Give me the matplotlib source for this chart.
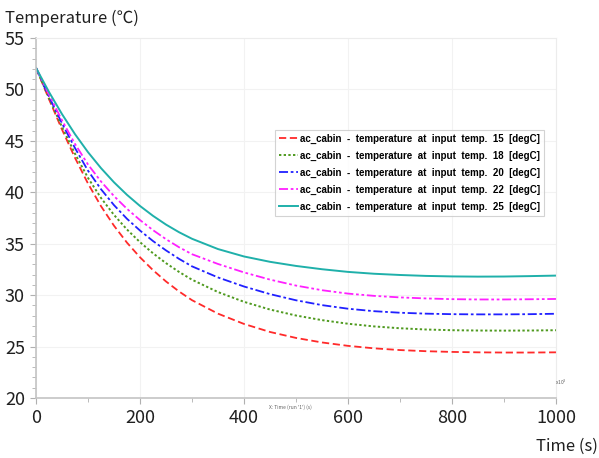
import matplotlib
matplotlib.use('Agg')
from matplotlib import ticker
import matplotlib.pyplot as plt

plt.rcParams['font.family'] = ['Noto Sans CJK KR', 'DejaVu Sans']

time_s = [0, 25, 50, 75, 100, 125, 150, 175, 200, 225, 250, 275, 300,
          350, 400, 450, 500, 550, 600, 650, 700, 750, 800, 850, 900, 950, 1000]

temp_15 = [52.1, 49.05, 46.1, 43.35, 40.85, 38.65, 36.75, 35.1, 33.68, 32.43, 31.33, 30.36, 29.51,
           28.2, 27.2, 26.42, 25.84, 25.4, 25.07, 24.83, 24.66, 24.55, 24.48, 24.44, 24.42, 24.42, 24.44]
temp_18 = [52.1, 49.15, 46.35, 43.75, 41.4, 39.45, 37.8, 36.38, 35.15, 34.07, 33.11, 32.26, 31.5,
           30.3, 29.35, 28.6, 28.02, 27.57, 27.22, 26.96, 26.78, 26.66, 26.59, 26.56, 26.55, 26.56, 26.59]
temp_20 = [52.1, 49.3, 46.7, 44.3, 42.1, 40.3, 38.75, 37.42, 36.28, 35.26, 34.35, 33.53, 32.8,
           31.72, 30.84, 30.1, 29.5, 29.03, 28.68, 28.44, 28.29, 28.2, 28.15, 28.13, 28.13, 28.15, 28.19]
temp_22 = [52.1, 49.5, 47.0, 44.7, 42.7, 41.05, 39.63, 38.39, 37.3, 36.32, 35.44, 34.66, 33.98,
           33.03, 32.21, 31.51, 30.93, 30.48, 30.15, 29.93, 29.78, 29.68, 29.61, 29.58, 29.58, 29.6, 29.63]
temp_25 = [52.1, 49.75, 47.6, 45.65, 43.9, 42.35, 40.97, 39.75, 38.67, 37.71, 36.86, 36.12, 35.48,
           34.48, 33.76, 33.24, 32.84, 32.52, 32.26, 32.08, 31.96, 31.87, 31.82, 31.8, 31.81, 31.85, 31.9]

labels = ['ac_cabin  -  temperature  at  input  temp.  15  [degC]',
          'ac_cabin  -  temperature  at  input  temp.  18  [degC]',
          'ac_cabin  -  temperature  at  input  temp.  20  [degC]',
          'ac_cabin  -  temperature  at  input  temp.  22  [degC]',
          'ac_cabin  -  temperature  at  input  temp.  25  [degC]']

fig = plt.figure(figsize=(5.99, 4.58), dpi=100)
ax = fig.add_axes([36/599, 60/458, 520/599, 360/458])

ax.plot(time_s, temp_15, color='#ff2a2a', lw=1.3, ls=(0, (4, 2)), label=labels[0])
ax.plot(time_s, temp_18, color='#4f9a1f', lw=1.4, ls=(0, (1.2, 1.2)), label=labels[1])
ax.plot(time_s, temp_20, color='#2020ff', lw=1.3, ls=(0, (5, 1.5, 1.5, 1.5)), label=labels[2])
ax.plot(time_s, temp_22, color='#ff20ff', lw=1.3, ls=(0, (5, 1.5, 1.5, 1.5, 1.5, 1.5)), label=labels[3])
ax.plot(time_s, temp_25, color='#1fb0aa', lw=1.4, ls='-', label=labels[4])

ax.set_xlim(0, 1000)
ax.set_ylim(20, 55)
ax.xaxis.set_major_locator(ticker.MultipleLocator(200))
ax.xaxis.set_minor_locator(ticker.MultipleLocator(100))
ax.yaxis.set_major_locator(ticker.MultipleLocator(5))
ax.yaxis.set_minor_locator(ticker.MultipleLocator(1))
ax.grid(True, which='major', color='#f2f2f2', lw=0.8)
ax.tick_params(which='both', direction='out', color='#b0b0b0', labelsize=13,
               labelcolor='#202020')
ax.tick_params(which='major', length=4, pad=4)
ax.tick_params(which='minor', length=3)

for side in ['left', 'bottom']:
    ax.spines[side].set_color('#c4c4c4')
    ax.spines[side].set_linewidth(1.2)
for side in ['top', 'right']:
    ax.spines[side].set_color('#ececec')

leg = ax.legend(loc='upper left', bbox_to_anchor=(239/520, 1 - 92/360),
                prop={'family': 'Liberation Sans', 'size': 7.0, 'weight': 'bold'},
                frameon=True, fancybox=False, edgecolor='#c8c8c8',
                handlelength=2.0, handletextpad=0.2, labelspacing=0.7,
                borderpad=0.4, borderaxespad=0)
leg.get_frame().set_linewidth(0.8)

fig.text(5/599, 1 - 18/458, 'Temperature (℃)', fontsize=12, va='center', ha='left',
         color='#202020')
fig.text(598/599, 1 - 446/458, 'Time (s)', fontsize=12, va='center', ha='right',
         color='#202020')
fig.text(269/599, 1 - 407/458, "X: Time (run '1') (s)", fontsize=3.5, va='center',
         ha='left', color='#606060')
fig.text(555/599, 1 - 382/458, r'x10$^3$', fontsize=3.5, va='center', ha='left',
         color='#606060')

fig.savefig('out.png', dpi=100)
